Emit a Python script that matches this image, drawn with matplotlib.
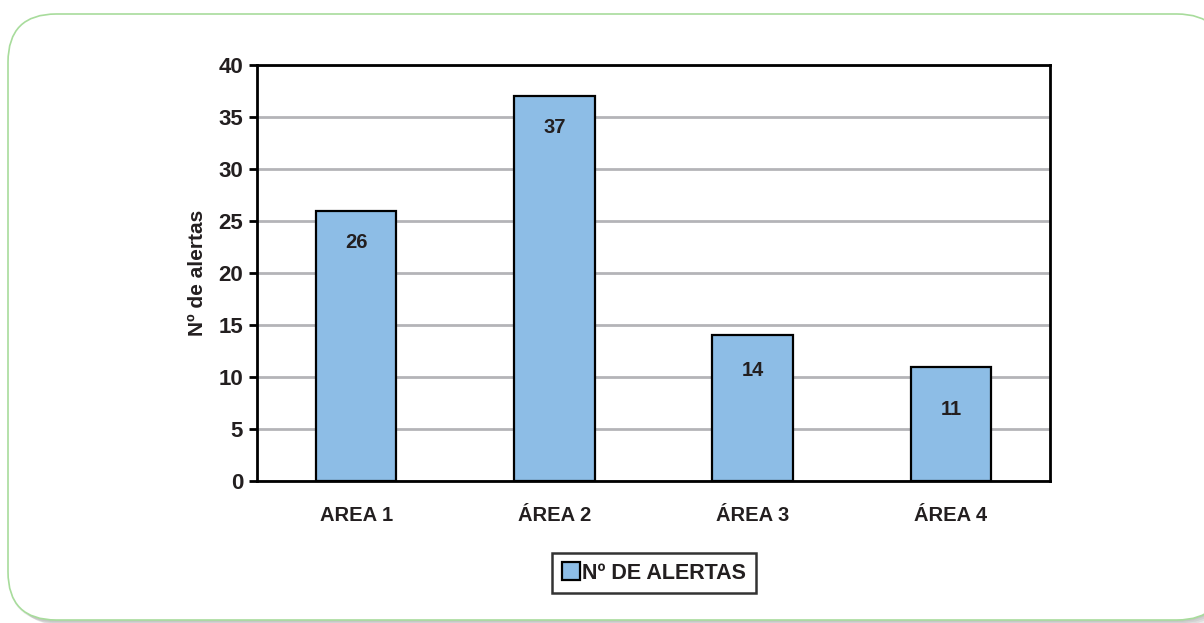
import matplotlib.pyplot as plt
from matplotlib.patches import FancyBboxPatch

plt.rcParams['font.family'] = ['Liberation Sans', 'DejaVu Sans']
plt.rcParams['font.weight'] = 'bold'

areas = ['AREA 1', 'ÁREA 2', 'ÁREA 3', 'ÁREA 4']
alertas = [26, 37, 14, 11]
label_drop = [32, 31, 35, 43]  # px below the bar top for each value label

fig = plt.figure(figsize=(12.04, 6.23), dpi=100)

# rounded panel with soft shadow along the bottom
pw = (1225 - 8) / 1204
for i, a in enumerate([0.05, 0.05, 0.06, 0.08]):
    sh = FancyBboxPatch((8 / 1204 + 0.002 * i, 1 / 623 - 0.002 * i), pw, 606 / 623,
                        boxstyle='round,pad=0,rounding_size=0.04',
                        transform=fig.transFigure, facecolor='black', alpha=a,
                        edgecolor='none', zorder=0, mutation_aspect=1204 / 623)
    fig.patches.append(sh)
panel = FancyBboxPatch((8 / 1204, 3 / 623), pw, 606 / 623,
                       boxstyle='round,pad=0,rounding_size=0.04',
                       transform=fig.transFigure, facecolor='white',
                       edgecolor='#a8dc9c', linewidth=1.2, zorder=1,
                       mutation_aspect=1204 / 623)
fig.patches.append(panel)

ax = fig.add_axes([257 / 1204, 1 - 481 / 623, (1050 - 257) / 1204, (481 - 65) / 623])
ax.set_zorder(2)
ax.patch.set_alpha(0)

x = range(len(areas))
bars = ax.bar(x, alertas, width=0.405, color='#8dbde6', edgecolor='black',
              linewidth=1.6, zorder=3, label='Nº DE ALERTAS')

for xi, v, d in zip(x, alertas, label_drop):
    ax.annotate(str(v), (xi, v), xytext=(0, -d * 0.72), textcoords='offset points',
                ha='center', va='center', fontsize=14.5, fontweight='bold',
                color='#231f20', zorder=4)

ax.set_xlim(-0.5, 3.5)
ax.set_ylim(0, 40)
ax.set_yticks(range(0, 41, 5))
ax.set_xticks(list(x))
ax.set_xticklabels(areas)
ax.yaxis.grid(True, color='#b4b4b8', linewidth=2)
ax.set_axisbelow(True)
for s in ax.spines.values():
    s.set_linewidth(2)
    s.set_color('black')
ax.tick_params(axis='y', direction='out', length=6, width=2, labelsize=16,
               labelcolor='#231f20', pad=4)
ax.tick_params(axis='x', length=0, labelsize=14.5, labelcolor='#231f20', pad=18)
for lbl in ax.get_xticklabels() + ax.get_yticklabels():
    lbl.set_fontweight('bold')

ax.set_ylabel('Nº de alertas', fontsize=15, fontweight='bold', color='#231f20',
              labelpad=8)

leg = ax.legend(loc='center', frameon=True,
                fancybox=False, edgecolor='black', fontsize=15.5,
                handlelength=0.85, handleheight=0.85, handletextpad=0.1,
                borderpad=0.45, borderaxespad=0)
leg.set_bbox_to_anchor((654 / 1204, 1 - 573 / 623), transform=fig.transFigure)
leg.get_frame().set_linewidth(1.8)
for t in leg.get_texts():
    t.set_color('#231f20')

fig.savefig('out.png', dpi=100)
